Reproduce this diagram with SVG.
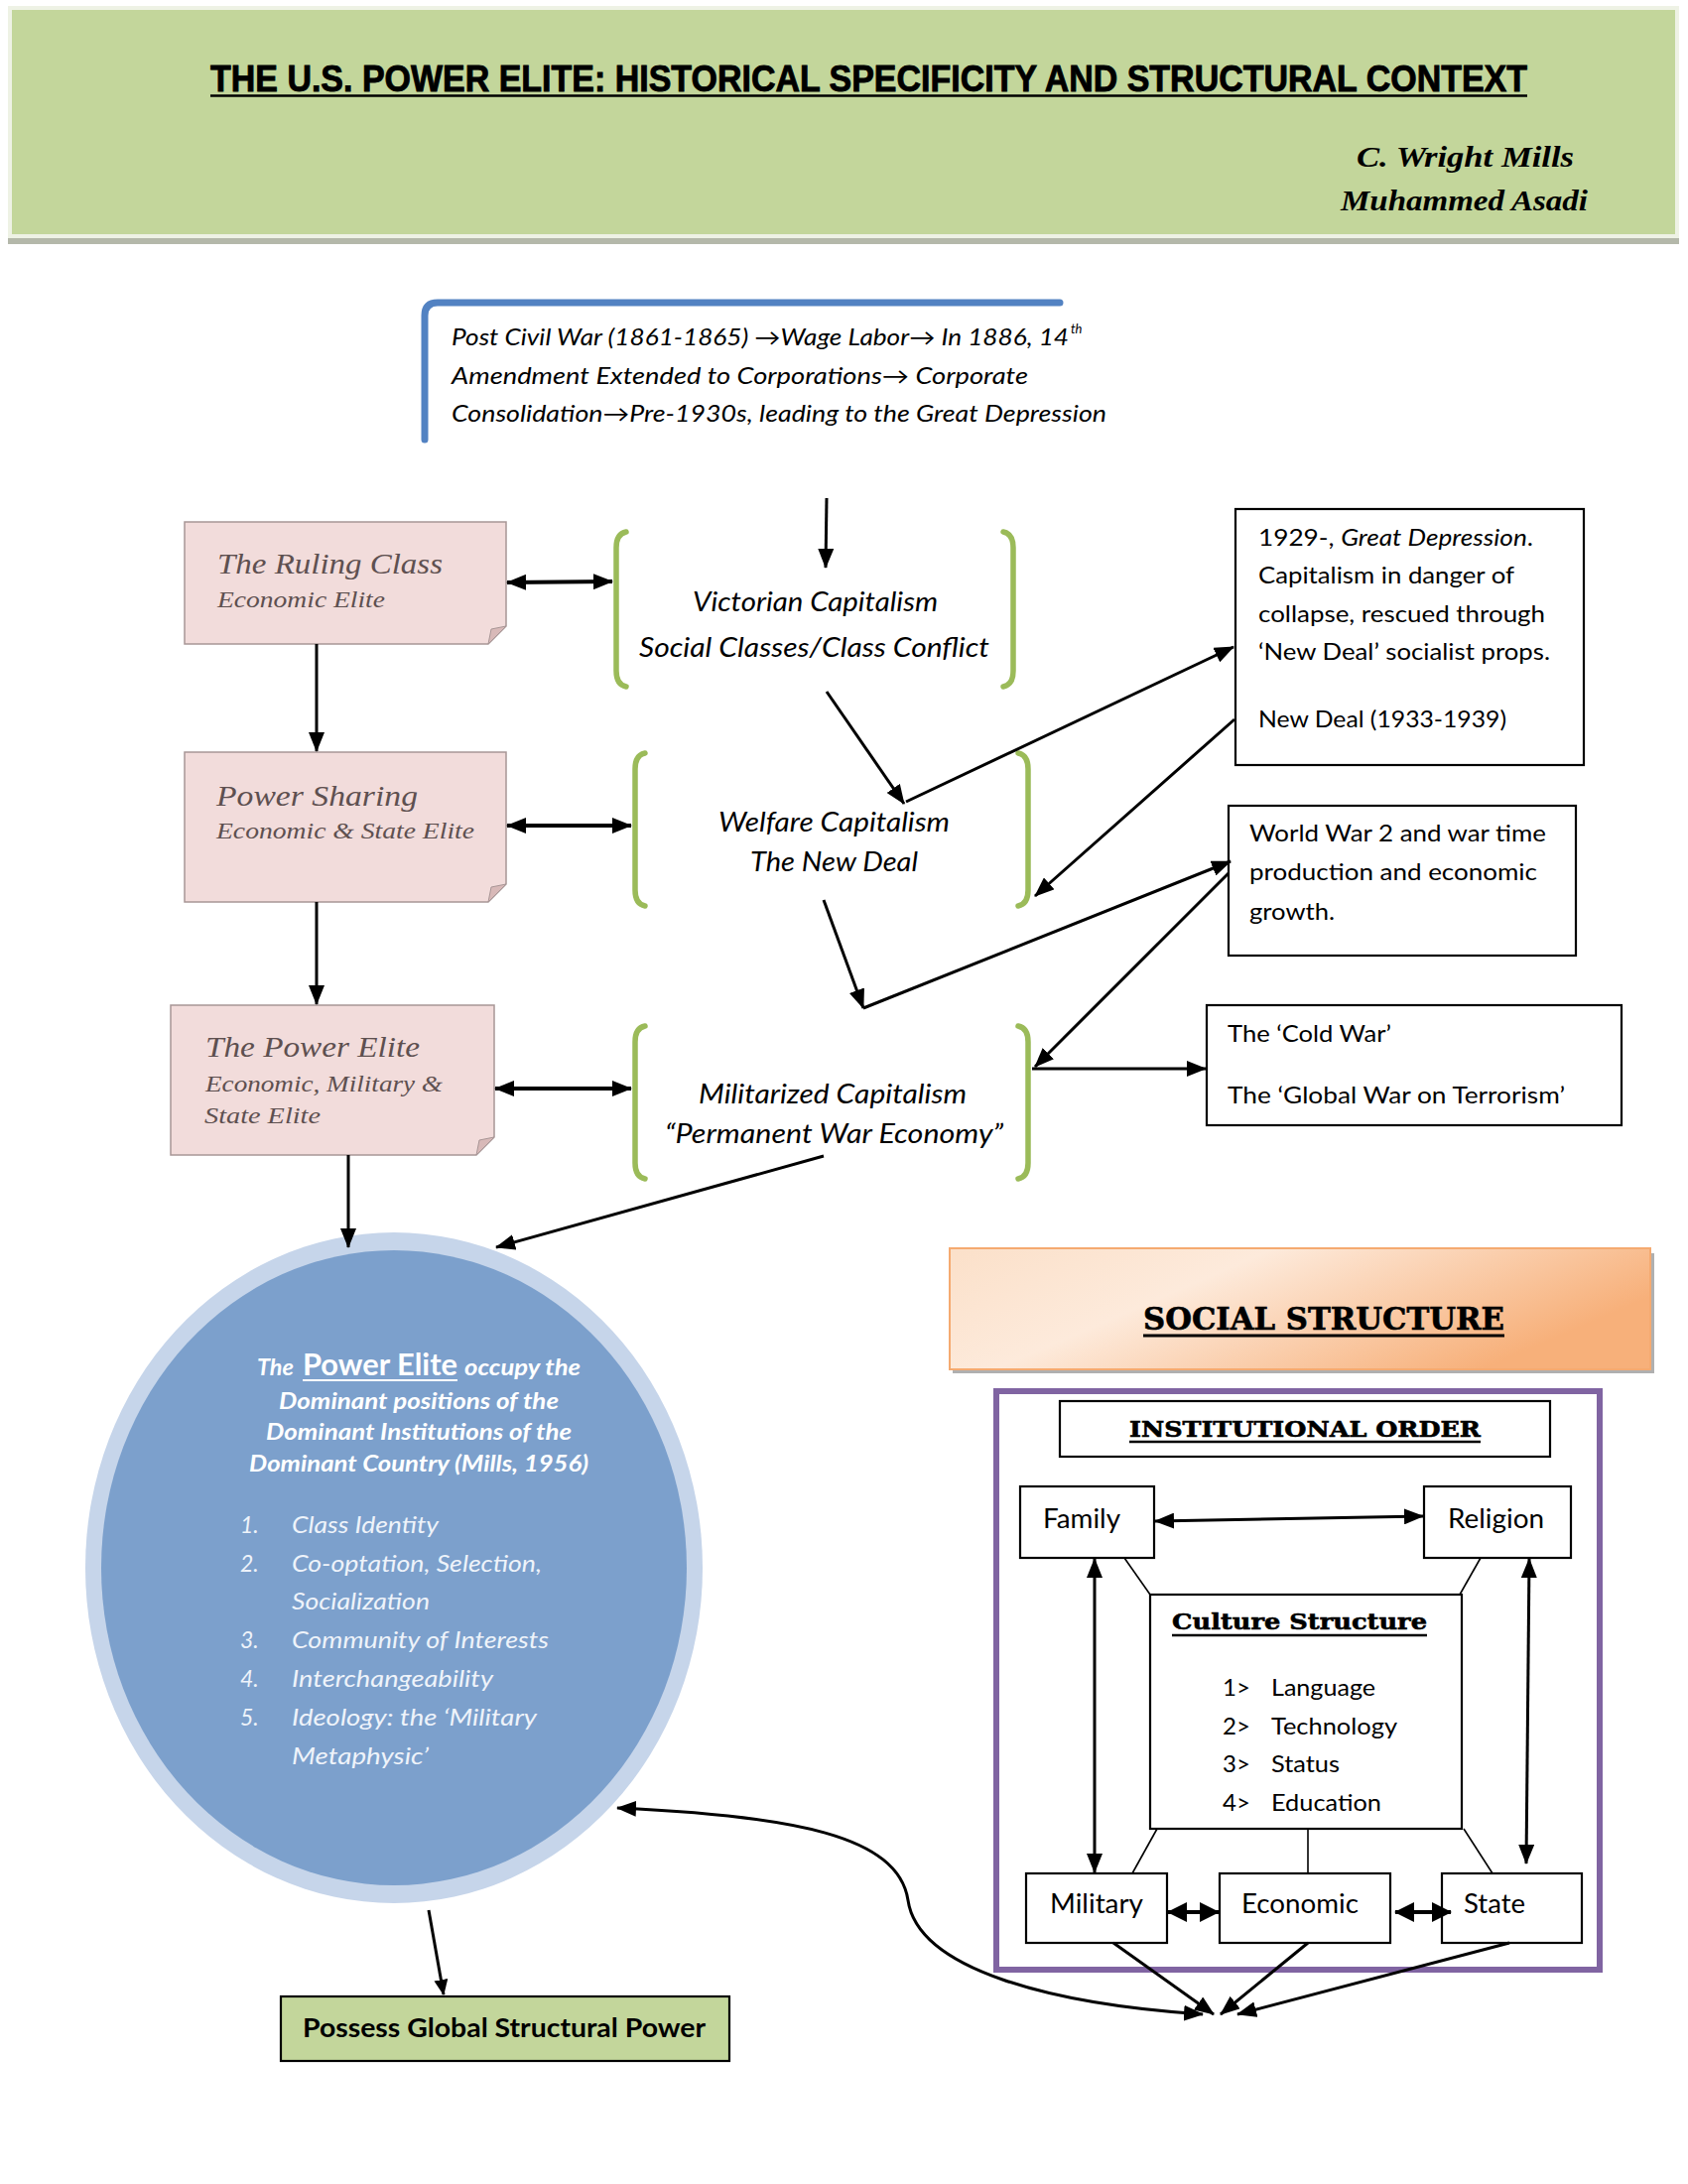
<svg xmlns="http://www.w3.org/2000/svg" width="1701" height="2201" viewBox="0 0 1701 2201">
<defs>
<style>
.ln{stroke:#000;stroke-width:3;fill:none}
.thk{stroke:#000;stroke-width:4;fill:none}
.thin{stroke:#000;stroke-width:1.6;fill:none}
.box{fill:#fff;stroke:#000;stroke-width:2.2}
.pink{fill:#f2dcdb;stroke:#a89696;stroke-width:1.5}
.fold{fill:#d8b9b8;stroke:#a89696;stroke-width:1}
.brk{fill:none;stroke:#9bbb59;stroke-width:5.5;stroke-linecap:round}
.cal{font-family:Lato,"Liberation Sans",sans-serif;fill:#000}
.calI{font-family:Lato,"Liberation Sans",sans-serif;font-style:italic;fill:#000}
.camb{font-family:"Liberation Serif","DejaVu Serif",serif;font-style:italic;fill:#5e5050}
.slab{font-family:"DejaVu Serif","Liberation Serif",serif;font-weight:bold;fill:#000;stroke:#000;stroke-width:0.6}
.wt{font-family:Lato,"Liberation Sans",sans-serif;fill:#fff;font-weight:bold;font-style:italic}
.wl{font-family:Lato,"Liberation Sans",sans-serif;fill:#eef3fa;font-style:italic}
</style>
<marker id="a" viewBox="0 0 20 16" refX="19" refY="8" markerWidth="20" markerHeight="16" markerUnits="userSpaceOnUse" orient="auto-start-reverse"><path d="M0,0 L20,8 L0,16 z" fill="#000"/></marker>
<marker id="b" viewBox="0 0 20 20" refX="19" refY="10" markerWidth="20" markerHeight="20" markerUnits="userSpaceOnUse" orient="auto-start-reverse"><path d="M0,0 L20,10 L0,20 z" fill="#000"/></marker>
<marker id="s" viewBox="0 0 16 14" refX="15" refY="7" markerWidth="16" markerHeight="14" markerUnits="userSpaceOnUse" orient="auto-start-reverse"><path d="M0,0 L16,7 L0,14 z" fill="#000"/></marker>
<linearGradient id="peach" x1="0" y1="0" x2="1" y2="0.4">
<stop offset="0" stop-color="#fbe0c9"/>
<stop offset="0.4" stop-color="#fdeadb"/>
<stop offset="1" stop-color="#f7b07a"/>
</linearGradient>
</defs>

<g id="header">
<rect x="8" y="12" width="1684" height="234" fill="#b4b8aa"/>
<rect x="10" y="8" width="1680" height="230" fill="#c3d69b" stroke="#eef2e5" stroke-width="4"/>
<text x="212" y="92" textLength="1327" lengthAdjust="spacingAndGlyphs" font-family="'Liberation Sans Narrow','Liberation Sans',sans-serif" font-weight="bold" font-size="37" stroke="#000" stroke-width="0.9">THE U.S. POWER ELITE: HISTORICAL SPECIFICITY AND STRUCTURAL CONTEXT</text>
<line x1="212" y1="96.5" x2="1539" y2="96.5" stroke="#000" stroke-width="2.5"/>
<text x="1367" y="168" textLength="219" lengthAdjust="spacingAndGlyphs" font-family="'Liberation Serif',serif" font-style="italic" font-weight="bold" font-size="29">C. Wright Mills</text>
<text x="1351" y="212" textLength="249" lengthAdjust="spacingAndGlyphs" font-family="'Liberation Serif',serif" font-style="italic" font-weight="bold" font-size="29">Muhammed Asadi</text>
</g>

<g id="callout">
<path d="M428,443 V318 Q428,305 441,305 H1068" fill="none" stroke="#5282c2" stroke-width="7" stroke-linecap="round"/>
<text class="calI" x="455" y="348" font-size="23" textLength="622" lengthAdjust="spacingAndGlyphs">Post Civil War (1861-1865) →Wage Labor→ In 1886, 14</text>
<text class="calI" x="1079" y="336" font-size="13">th</text>
<text class="calI" x="455" y="387" font-size="23" textLength="581" lengthAdjust="spacingAndGlyphs">Amendment Extended to Corporations→  Corporate</text>
<text class="calI" x="455" y="425" font-size="23" textLength="660" lengthAdjust="spacingAndGlyphs">Consolidation→Pre-1930s, leading to the Great Depression</text>
</g>

<g id="ruling-class">
<path class="pink" d="M186,526 H510 V631 L492,649 H186 Z"/>
<path class="fold" d="M510,631 L492,649 L495,634 Z"/>
<text class="camb" x="219" y="578" font-size="30" textLength="227" lengthAdjust="spacingAndGlyphs">The Ruling Class</text>
<text class="camb" x="219" y="612" font-size="23" textLength="169" lengthAdjust="spacingAndGlyphs">Economic Elite</text>
</g>

<g id="power-sharing">
<path class="pink" d="M186,758 H510 V891 L492,909 H186 Z"/>
<path class="fold" d="M510,891 L492,909 L495,894 Z"/>
<text class="camb" x="218" y="812" font-size="30" textLength="203" lengthAdjust="spacingAndGlyphs">Power Sharing</text>
<text class="camb" x="218" y="845" font-size="23" textLength="260" lengthAdjust="spacingAndGlyphs">Economic &amp; State Elite</text>
</g>

<g id="power-elite-box">
<path class="pink" d="M172,1013 H498 V1146 L480,1164 H172 Z"/>
<path class="fold" d="M498,1146 L480,1164 L483,1149 Z"/>
<text class="camb" x="207" y="1065" font-size="30" textLength="216" lengthAdjust="spacingAndGlyphs">The Power Elite</text>
<text class="camb" x="207" y="1100" font-size="23" textLength="239" lengthAdjust="spacingAndGlyphs">Economic, Military &amp;</text>
<text class="camb" x="206" y="1132" font-size="23" textLength="117" lengthAdjust="spacingAndGlyphs">State Elite</text>
</g>

<g id="victorian">
<path class="brk" d="M631,536 Q621,538 621,552 V676 Q621,690 631,692"/>
<path class="brk" d="M1011,536 Q1021,538 1021,552 V676 Q1021,690 1011,692"/>
<text class="calI" x="698" y="616" font-size="27" textLength="247" lengthAdjust="spacingAndGlyphs">Victorian Capitalism</text>
<text class="calI" x="644" y="662" font-size="27" textLength="353" lengthAdjust="spacingAndGlyphs">Social Classes/Class Conflict</text>
</g>

<g id="welfare">
<path class="brk" d="M650,759 Q640,761 640,775 V897 Q640,911 650,913"/>
<path class="brk" d="M1026,759 Q1036,761 1036,775 V897 Q1036,911 1026,913"/>
<text class="calI" x="724" y="838" font-size="27" textLength="233" lengthAdjust="spacingAndGlyphs">Welfare Capitalism</text>
<text class="calI" x="756" y="878" font-size="27" textLength="169" lengthAdjust="spacingAndGlyphs">The New Deal</text>
</g>

<g id="militarized">
<path class="brk" d="M650,1034 Q640,1036 640,1050 V1172 Q640,1186 650,1188"/>
<path class="brk" d="M1026,1034 Q1036,1036 1036,1050 V1172 Q1036,1186 1026,1188"/>
<text class="calI" x="704" y="1112" font-size="27" textLength="270" lengthAdjust="spacingAndGlyphs">Militarized Capitalism</text>
<text class="calI" x="670" y="1152" font-size="27" textLength="341" lengthAdjust="spacingAndGlyphs">“Permanent War Economy”</text>
</g>

<g id="depression-box">
<rect class="box" x="1245" y="513" width="351" height="258"/>
<text class="cal" x="1268" y="550" font-size="23" textLength="277" lengthAdjust="spacingAndGlyphs">1929-, <tspan font-style="italic">Great Depression</tspan>.</text>
<text class="cal" x="1268" y="588" font-size="23" textLength="258" lengthAdjust="spacingAndGlyphs">Capitalism in danger of</text>
<text class="cal" x="1268" y="627" font-size="23" textLength="289" lengthAdjust="spacingAndGlyphs">collapse, rescued through</text>
<text class="cal" x="1268" y="665" font-size="23" textLength="294" lengthAdjust="spacingAndGlyphs">‘New Deal’ socialist props.</text>
<text class="cal" x="1268" y="733" font-size="23" textLength="250" lengthAdjust="spacingAndGlyphs">New Deal (1933-1939)</text>
</g>

<g id="ww2-box">
<rect class="box" x="1238" y="812" width="350" height="151"/>
<text class="cal" x="1259" y="848" font-size="23" textLength="299" lengthAdjust="spacingAndGlyphs">World War 2 and war time</text>
<text class="cal" x="1259" y="887" font-size="23" textLength="290" lengthAdjust="spacingAndGlyphs">production and economic</text>
<text class="cal" x="1259" y="927" font-size="23" textLength="86" lengthAdjust="spacingAndGlyphs">growth.</text>
</g>

<g id="coldwar-box">
<rect class="box" x="1216" y="1013" width="418" height="121"/>
<text class="cal" x="1237" y="1050" font-size="23" textLength="165" lengthAdjust="spacingAndGlyphs">The ‘Cold War’</text>
<text class="cal" x="1237" y="1112" font-size="23" textLength="340" lengthAdjust="spacingAndGlyphs">The ‘Global War on Terrorism’</text>
</g>

<g id="power-elite-circle">
<ellipse cx="397" cy="1580" rx="311" ry="338" fill="#c6d5ea"/>
<ellipse cx="397" cy="1580" rx="295" ry="320" fill="#7ca0cc"/>
<text class="wt" x="259" y="1386" font-size="22" textLength="37" lengthAdjust="spacingAndGlyphs">The</text>
<text x="305" y="1386" font-family="Lato,'Liberation Sans',sans-serif" font-weight="bold" fill="#fff" font-size="30" textLength="156" lengthAdjust="spacingAndGlyphs">Power Elite</text>
<line x1="305" y1="1391" x2="461" y2="1391" stroke="#fff" stroke-width="2"/>
<text class="wt" x="468" y="1386" font-size="22" textLength="117" lengthAdjust="spacingAndGlyphs">occupy the</text>
<text class="wt" x="281" y="1420" font-size="22" textLength="282" lengthAdjust="spacingAndGlyphs">Dominant positions of the</text>
<text class="wt" x="268" y="1451" font-size="22" textLength="308" lengthAdjust="spacingAndGlyphs">Dominant Institutions of the</text>
<text class="wt" x="251" y="1483" font-size="22" textLength="342" lengthAdjust="spacingAndGlyphs">Dominant Country (Mills, 1956)</text>
<g class="wl" font-size="23">
<text x="242" y="1545">1.</text>
<text x="294" y="1545" textLength="148" lengthAdjust="spacingAndGlyphs">Class Identity</text>
<text x="242" y="1584">2.</text>
<text x="294" y="1584" textLength="252" lengthAdjust="spacingAndGlyphs">Co-optation, Selection,</text>
<text x="294" y="1622" textLength="139" lengthAdjust="spacingAndGlyphs">Socialization</text>
<text x="242" y="1661">3.</text>
<text x="294" y="1661" textLength="259" lengthAdjust="spacingAndGlyphs">Community of Interests</text>
<text x="242" y="1700">4.</text>
<text x="294" y="1700" textLength="203" lengthAdjust="spacingAndGlyphs">Interchangeability</text>
<text x="242" y="1739">5.</text>
<text x="294" y="1739" textLength="247" lengthAdjust="spacingAndGlyphs">Ideology: the ‘Military</text>
<text x="294" y="1778" textLength="138" lengthAdjust="spacingAndGlyphs">Metaphysic’</text>
</g>
</g>

<g id="possess-box">
<rect x="283" y="2012" width="452" height="65" fill="#c3d69b" stroke="#000" stroke-width="2.2"/>
<text class="cal" x="305" y="2053" font-size="27" font-weight="bold" textLength="406" lengthAdjust="spacingAndGlyphs">Possess Global Structural Power</text>
</g>

<g id="social-structure">
<rect x="960" y="1263" width="707" height="121" fill="#b0b0b0"/>
<rect x="957" y="1258" width="706" height="122" fill="url(#peach)" stroke="#f5aa70" stroke-width="2"/>
<text class="slab" x="1152" y="1340" font-size="31" textLength="364" lengthAdjust="spacingAndGlyphs">SOCIAL STRUCTURE</text>
<line x1="1152" y1="1346" x2="1516" y2="1346" stroke="#000" stroke-width="3"/>
</g>

<g id="institutional-frame">
<rect x="1004" y="1402" width="608" height="583" fill="#fff" stroke="#8064a2" stroke-width="6"/>
</g>

<g id="institutional-order">
<rect class="box" x="1068" y="1412" width="494" height="56"/>
<text class="slab" x="1138" y="1448" font-size="22" textLength="354" lengthAdjust="spacingAndGlyphs">INSTITUTIONAL ORDER</text>
<line x1="1138" y1="1453" x2="1492" y2="1453" stroke="#000" stroke-width="2.5"/>
</g>

<g id="family"><rect class="box" x="1028" y="1498" width="135" height="72"/><text class="cal" x="1051" y="1540" font-size="26" textLength="78" lengthAdjust="spacingAndGlyphs">Family</text></g>
<g id="religion"><rect class="box" x="1435" y="1498" width="148" height="72"/><text class="cal" x="1459" y="1540" font-size="26" textLength="97" lengthAdjust="spacingAndGlyphs">Religion</text></g>

<g id="culture-structure">
<rect class="box" x="1159" y="1607" width="314" height="236"/>
<text class="slab" x="1181" y="1642" font-size="23" textLength="257" lengthAdjust="spacingAndGlyphs">Culture Structure</text>
<line x1="1181" y1="1648" x2="1438" y2="1648" stroke="#000" stroke-width="2.5"/>
<g class="cal" font-size="24">
<text x="1232" y="1709">1&gt;</text><text x="1281" y="1709" textLength="105" lengthAdjust="spacingAndGlyphs">Language</text>
<text x="1232" y="1748">2&gt;</text><text x="1281" y="1748" textLength="127" lengthAdjust="spacingAndGlyphs">Technology</text>
<text x="1232" y="1786">3&gt;</text><text x="1281" y="1786" textLength="69" lengthAdjust="spacingAndGlyphs">Status</text>
<text x="1232" y="1825">4&gt;</text><text x="1281" y="1825" textLength="111" lengthAdjust="spacingAndGlyphs">Education</text>
</g>
</g>

<g id="military"><rect class="box" x="1034" y="1888" width="142" height="70"/><text class="cal" x="1058" y="1928" font-size="26" textLength="94" lengthAdjust="spacingAndGlyphs">Military</text></g>
<g id="economic"><rect class="box" x="1229" y="1888" width="172" height="70"/><text class="cal" x="1251" y="1928" font-size="26" textLength="118" lengthAdjust="spacingAndGlyphs">Economic</text></g>
<g id="state"><rect class="box" x="1453" y="1888" width="141" height="70"/><text class="cal" x="1475" y="1928" font-size="26" textLength="62" lengthAdjust="spacingAndGlyphs">State</text></g>

<g id="connectors">
<line class="ln" x1="833" y1="502" x2="832" y2="572" marker-end="url(#a)"/>
<line class="thk" x1="511" y1="587" x2="617" y2="586" marker-start="url(#a)" marker-end="url(#a)"/>
<line class="ln" x1="319" y1="649" x2="319" y2="757" marker-end="url(#a)"/>
<line class="thk" x1="511" y1="832" x2="636" y2="832" marker-start="url(#a)" marker-end="url(#a)"/>
<line class="ln" x1="319" y1="909" x2="319" y2="1012" marker-end="url(#a)"/>
<line class="thk" x1="499" y1="1097" x2="636" y2="1097" marker-start="url(#a)" marker-end="url(#a)"/>
<line class="ln" x1="351" y1="1164" x2="351" y2="1257" marker-end="url(#a)"/>
<line class="ln" x1="830" y1="1165" x2="500" y2="1257" marker-end="url(#a)"/>
<line class="ln" x1="833" y1="697" x2="911" y2="810" marker-end="url(#a)"/>
<line class="ln" x1="913" y1="808" x2="1243" y2="652" marker-end="url(#a)"/>
<line class="ln" x1="1244" y1="725" x2="1043" y2="903" marker-end="url(#a)"/>
<line class="ln" x1="830" y1="907" x2="870" y2="1016" marker-end="url(#a)"/>
<line class="ln" x1="870" y1="1016" x2="1240" y2="868" marker-end="url(#a)"/>
<line class="ln" x1="1238" y1="880" x2="1043" y2="1075" marker-end="url(#a)"/>
<line class="ln" x1="1040" y1="1077" x2="1215" y2="1077" marker-end="url(#a)"/>
<line class="ln" x1="432" y1="1925" x2="447" y2="2010" marker-end="url(#s)"/>
<line class="ln" x1="1164" y1="1533" x2="1434" y2="1528" marker-start="url(#a)" marker-end="url(#a)"/>
<line class="ln" x1="1103" y1="1571" x2="1103" y2="1887" marker-start="url(#a)" marker-end="url(#a)"/>
<line class="ln" x1="1541" y1="1571" x2="1538" y2="1878" marker-start="url(#a)" marker-end="url(#a)"/>
<line class="thk" x1="1177" y1="1927" x2="1228" y2="1927" marker-start="url(#b)" marker-end="url(#b)"/>
<line class="thk" x1="1406" y1="1927" x2="1462" y2="1927" marker-start="url(#b)" marker-end="url(#b)"/>
<line class="ln" x1="1122" y1="1958" x2="1223" y2="2030" marker-end="url(#a)"/>
<line class="ln" x1="1318" y1="1958" x2="1230" y2="2030" marker-end="url(#a)"/>
<line class="ln" x1="1521" y1="1958" x2="1247" y2="2030" marker-end="url(#a)"/>
<path class="ln" d="M622,1822 C800,1830 905,1850 915,1915 C925,1985 1060,2020 1212,2030" marker-start="url(#a)" marker-end="url(#a)"/>
<line class="thin" x1="1133" y1="1570" x2="1159" y2="1607"/>
<line class="thin" x1="1492" y1="1570" x2="1471" y2="1607"/>
<line class="thin" x1="1166" y1="1843" x2="1141" y2="1888"/>
<line class="thin" x1="1318" y1="1843" x2="1318" y2="1888"/>
<line class="thin" x1="1475" y1="1843" x2="1504" y2="1888"/>
</g>
</svg>
